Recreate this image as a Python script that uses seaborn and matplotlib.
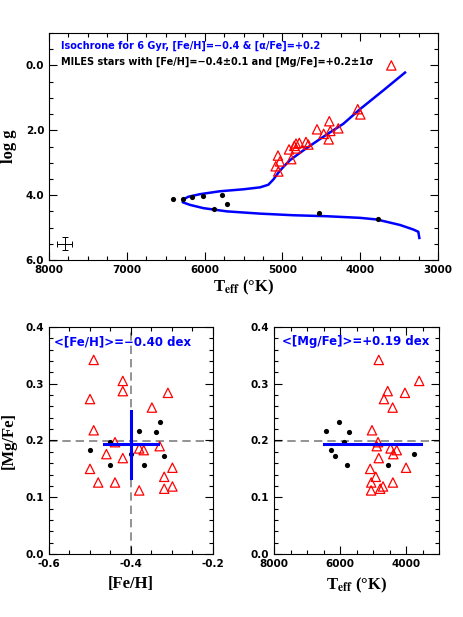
import numpy as np
import pandas as pd
import seaborn as sns
import matplotlib.pyplot as plt
from matplotlib.ticker import MultipleLocator, FormatStrFormatter

# dwarf stars (filled black circles)
dwarf_teff = [6410, 6274, 6166, 6017, 5879, 5776, 5716, 4534, 3767]
dwarf_logg = [4.13, 4.12, 4.05, 4.04, 4.44, 4.01, 4.26, 4.54, 4.73]
dwarf_feh = [-0.38, -0.50, -0.319, -0.33, -0.451, -0.451, -0.34, -0.369, -0.40]
dwarf_mgfe = [0.216, 0.184, 0.172, 0.233, 0.197, 0.156, 0.215, 0.157, 0.177]

# giant stars (open red triangles)
giant_teff = [3600, 3998, 4032, 4281, 4384, 4397, 4405, 4469, 4555, 4667, 4697,
              4783, 4825, 4825, 4847, 4886, 4915, 5031, 5053, 5057, 5086]
giant_logg = [0.00, 1.51, 1.35, 1.94, 2.02, 1.72, 2.28, 2.11, 1.97, 2.44, 2.36,
              2.39, 2.41, 2.56, 2.48, 2.89, 2.59, 2.96, 3.27, 2.78, 3.11]
giant_feh = [-0.42, -0.299, -0.31, -0.369, -0.46, -0.439, -0.349, -0.38, -0.42, -0.50, -0.299,
             -0.319, -0.491, -0.42, -0.439, -0.33, -0.319, -0.491, -0.48, -0.38, -0.50]
giant_mgfe = [0.305, 0.152, 0.284, 0.183, 0.176, 0.126, 0.258, 0.186, 0.287, 0.273, 0.119,
              0.115, 0.342, 0.169, 0.197, 0.190, 0.136, 0.218, 0.126, 0.112, 0.150]

# isochrone 6 Gyr, [Fe/H]=-0.4, [a/Fe]=+0.2
iso_teff = [3240, 3253, 3317, 3488, 3788, 4003, 4431, 4860, 5288, 5716, 6017, 6188,
            6281, 6274, 6210, 6059, 5802, 5503, 5288, 5181, 5117, 5050, 4988, 4902,
            4731, 4474, 4217, 4003, 3703, 3424]
iso_logg = [5.32, 5.13, 5.06, 4.92, 4.75, 4.70, 4.65, 4.62, 4.57, 4.50, 4.40, 4.30,
            4.22, 4.13, 4.05, 3.97, 3.88, 3.82, 3.76, 3.68, 3.52, 3.30, 3.13, 2.92,
            2.62, 2.20, 1.80, 1.35, 0.77, 0.22]

# mean values and 1 sigma
feh_mean, feh_sigma = -0.40, 0.067
mgfe_mean, mgfe_sigma = 0.193, 0.059
mean_teff_span = [6500, 3550]

# typical error bar
err_teff, err_logg = 7800, 5.5
err_dteff, err_dlogg = 100, 0.2

BLUE = "#0000ff"
RED = "#ff0000"
GREY = "#808080"

plt.rcParams["font.family"] = ["DejaVu Sans"]
plt.rcParams["font.weight"] = "bold"
plt.rcParams["mathtext.fontset"] = "stix"
plt.rcParams["mathtext.default"] = "bf"

dwarfs = pd.DataFrame({"teff": dwarf_teff, "logg": dwarf_logg, "feh": dwarf_feh, "mgfe": dwarf_mgfe})
giants = pd.DataFrame({"teff": giant_teff, "logg": giant_logg, "feh": giant_feh, "mgfe": giant_mgfe})
iso = pd.DataFrame({"teff": iso_teff, "logg": iso_logg})

W, H = 463, 617
fig = plt.figure(figsize=(W / 100, H / 100), dpi=100)
ax_top = fig.add_axes([49 / W, 1 - 260 / H, (438 - 49) / W, (260 - 33) / H])
ax_bl = fig.add_axes([49 / W, 1 - 554 / H, (213 - 49) / W, (554 - 327) / H])
ax_br = fig.add_axes([274 / W, 1 - 554 / H, (439 - 274) / W, (554 - 327) / H])

label_font = dict(family="Liberation Serif", weight="bold", size=12)


def style_axes(ax):
    ax.tick_params(which="both", direction="in", top=True, right=True, labelsize=7.5, width=0.8)
    ax.tick_params(which="major", length=6)
    ax.tick_params(which="minor", length=3)
    for s in ax.spines.values():
        s.set_linewidth(0.8)
    for lab in ax.get_xticklabels() + ax.get_yticklabels():
        lab.set_fontweight("bold")


def draw_stars(ax, x, y):
    sns.scatterplot(data=giants, x=x, y=y, ax=ax, marker="^", s=45, facecolor="none",
                    edgecolor=RED, linewidth=0.9, zorder=3, legend=False)
    sns.scatterplot(data=dwarfs, x=x, y=y, ax=ax, marker="o", s=14, color="black",
                    edgecolor="black", linewidth=0, zorder=4, legend=False)


# --- top panel: log g vs Teff
sns.lineplot(data=iso, x="teff", y="logg", ax=ax_top, sort=False, estimator=None,
             color=BLUE, linewidth=1.8, zorder=2)
draw_stars(ax_top, "teff", "logg")
ax_top.errorbar(err_teff, err_logg, xerr=err_dteff, yerr=err_dlogg, color="black",
                linewidth=0.7, capsize=2, capthick=0.7)
ax_top.set_xlim(8000, 3000)
ax_top.set_ylim(6, -1)
ax_top.xaxis.set_major_locator(MultipleLocator(1000))
ax_top.xaxis.set_minor_locator(MultipleLocator(250))
ax_top.yaxis.set_major_locator(MultipleLocator(2))
ax_top.yaxis.set_minor_locator(MultipleLocator(0.5))
ax_top.yaxis.set_major_formatter(FormatStrFormatter("%.1f"))
ax_top.set_xlabel(r"T$_{\rm eff}$ (°K)", fontdict=label_font, labelpad=2)
ax_top.set_ylabel("log g", fontdict=label_font, labelpad=6)
ax_top.text(0.03, 0.945, "Isochrone for 6 Gyr, [Fe/H]=\u22120.4 & [\u03b1/Fe]=+0.2",
            transform=ax_top.transAxes, color=BLUE, fontsize=7, fontweight="bold", va="center")
ax_top.text(0.03, 0.875, "MILES stars with [Fe/H]=\u22120.4\u00b10.1 and [Mg/Fe]=+0.2\u00b11\u03c3",
            transform=ax_top.transAxes, color="black", fontsize=7, fontweight="bold", va="center")
style_axes(ax_top)

# --- bottom left: [Mg/Fe] vs [Fe/H]
ax_bl.axhline(0.2, color=GREY, linestyle=(0, (5, 3)), linewidth=1.2, zorder=1)
ax_bl.axvline(-0.4, color=GREY, linestyle=(0, (5, 3)), linewidth=1.2, zorder=1)
draw_stars(ax_bl, "feh", "mgfe")
ax_bl.plot([feh_mean - feh_sigma, feh_mean + feh_sigma], [mgfe_mean, mgfe_mean],
           color=BLUE, linewidth=2.2, zorder=5)
ax_bl.plot([feh_mean, feh_mean], [mgfe_mean - mgfe_sigma, mgfe_mean + mgfe_sigma],
           color=BLUE, linewidth=2.2, zorder=5)
ax_bl.set_xlim(-0.6, -0.2)
ax_bl.set_ylim(0, 0.4)
ax_bl.xaxis.set_major_locator(MultipleLocator(0.2))
ax_bl.xaxis.set_minor_locator(MultipleLocator(0.05))
ax_bl.yaxis.set_major_locator(MultipleLocator(0.1))
ax_bl.yaxis.set_minor_locator(MultipleLocator(0.02))
ax_bl.xaxis.set_major_formatter(FormatStrFormatter("%.1f"))
ax_bl.yaxis.set_major_formatter(FormatStrFormatter("%.1f"))
ax_bl.set_xlabel("[Fe/H]", fontdict=label_font, labelpad=5)
ax_bl.set_ylabel("[Mg/Fe]", fontdict=label_font, labelpad=6)
ax_bl.text(0.03, 0.935, "<[Fe/H]>=\u22120.40 dex", transform=ax_bl.transAxes,
           color=BLUE, fontsize=8.5, fontweight="bold", va="center")
style_axes(ax_bl)

# --- bottom right: [Mg/Fe] vs Teff
ax_br.axhline(0.2, color=GREY, linestyle=(0, (5, 3)), linewidth=1.2, zorder=1)
draw_stars(ax_br, "teff", "mgfe")
ax_br.plot(mean_teff_span, [mgfe_mean, mgfe_mean], color=BLUE, linewidth=2.2, zorder=5)
ax_br.set_xlim(8000, 3000)
ax_br.set_ylim(0, 0.4)
ax_br.xaxis.set_major_locator(MultipleLocator(2000))
ax_br.xaxis.set_minor_locator(MultipleLocator(500))
ax_br.yaxis.set_major_locator(MultipleLocator(0.1))
ax_br.yaxis.set_minor_locator(MultipleLocator(0.02))
ax_br.yaxis.set_major_formatter(FormatStrFormatter("%.1f"))
ax_br.set_xlabel(r"T$_{\rm eff}$ (°K)", fontdict=label_font, labelpad=5)
ax_br.set_ylabel("")
ax_br.text(0.05, 0.935, "<[Mg/Fe]>=+0.19 dex", transform=ax_br.transAxes,
           color=BLUE, fontsize=8.5, fontweight="bold", va="center")
style_axes(ax_br)

fig.savefig("out.png", dpi=100)
